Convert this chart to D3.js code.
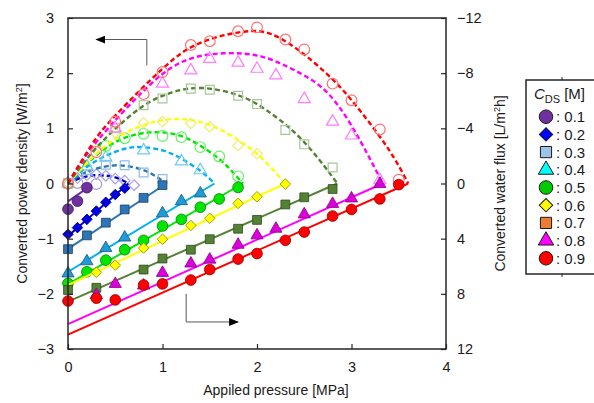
<!DOCTYPE html>
<html>
<head>
<meta charset="utf-8">
<script src="https://cdn.jsdelivr.net/npm/d3@7"></script>
<style>
  body { margin: 0; background: #fff; }
  svg { font-family: "Liberation Sans", Arial, sans-serif; }
</style>
</head>
<body>
<div id="chart"></div>
<script>
// concentration of draw solution (legend)
const concentrations = ["0.1", "0.2", "0.3", "0.4", "0.5", "0.6", "0.7", "0.8", "0.9"];

// measured power density [W/m2] (open markers, left axis)
const powerMeasured = [
  [[0, 0], [0.1, 0.01], [0.3, -0.01]],
  [[0, 0], [0.1, 0.1], [0.2, 0.15], [0.3, 0.17], [0.4, 0.14], [0.5, 0.09], [0.6, 0.05], [0.7, -0.03]],
  [[0, 0], [0.2, 0.24], [0.4, 0.34], [0.6, 0.33], [0.8, 0.2], [1.0, 0.08]],
  [[0, 0], [0.2, 0.31], [0.4, 0.47], [0.8, 0.6], [1.2, 0.4], [1.4, 0.24]],
  [[0, 0], [0.4, 0.68], [0.6, 0.82], [0.8, 0.9], [1.0, 0.86], [1.2, 0.84], [1.4, 0.66], [1.6, 0.49], [1.8, 0.13]],
  [[0, 0], [0.3, 0.62], [0.5, 0.92], [0.8, 1.1], [1.0, 1.12], [1.3, 1.09], [1.5, 1.03], [1.8, 0.69], [2.0, 0.54]],
  [[0, 0], [0.5, 1.0], [0.8, 1.42], [1.0, 1.54], [1.3, 1.72], [1.5, 1.7], [1.8, 1.59], [2.0, 1.44], [2.3, 0.97], [2.5, 0.71], [2.8, 0.29]],
  [[0.5, 1.0], [1.0, 1.81], [1.3, 2.05], [1.5, 2.26], [1.8, 2.19], [2.0, 2.08], [2.2, 1.96], [2.5, 1.53], [2.8, 1.12], [3.0, 0.87], [3.3, 0.06]],
  [[0, 0], [0.3, 0.57], [0.5, 1.12], [0.8, 1.62], [1.0, 2.02], [1.3, 2.51], [1.5, 2.58], [1.8, 2.76], [2.0, 2.83], [2.3, 2.61], [2.5, 2.43], [2.8, 1.81], [3.0, 1.51], [3.3, 0.98], [3.5, 0.07]]
];

// measured water flux [L/m2h] (filled markers, right axis)
const fluxMeasured = [
  [[0, 1.86], [0.1, 1.28], [0.2, 0.3]],
  [[0, 3.68], [0.1, 3.2], [0.2, 2.6], [0.3, 2.0], [0.4, 1.36], [0.5, 0.8], [0.6, 0.34]],
  [[0, 4.76], [0.2, 3.76], [0.4, 2.84], [0.6, 1.88], [0.8, 1.04], [1.0, 0.12]],
  [[0, 6.52], [0.2, 5.64], [0.4, 4.68], [0.6, 3.92], [1.0, 2.16], [1.2, 1.28], [1.4, 0.72]],
  [[0, 7.24], [0.2, 6.4], [0.4, 5.56], [0.6, 4.8], [0.8, 4.12], [1.0, 3.08], [1.2, 2.6], [1.4, 1.72], [1.6, 1.12], [1.8, 0.28]],
  [[0.3, 6.44], [0.5, 5.92], [0.8, 4.68], [1.0, 4.04], [1.3, 3.04], [1.5, 2.52], [1.8, 1.44], [2.0, 0.96], [2.3, 0.04]],
  [[0, 7.72], [0.3, 7.56], [0.8, 6.24], [1.0, 5.44], [1.3, 4.8], [1.5, 4.04], [1.8, 3.28], [2.0, 2.64], [2.3, 1.52], [2.5, 1.0], [2.8, 0.4]],
  [[0.3, 8.08], [0.5, 7.28], [0.8, 7.4], [1.0, 6.48], [1.3, 5.8], [1.5, 5.52], [1.8, 4.44], [2.0, 3.76], [2.2, 3.28], [2.5, 2.24], [2.8, 1.48], [3.0, 1.08], [3.3, 0.04]],
  [[0, 8.52], [0.3, 8.32], [0.5, 8.44], [0.8, 7.36], [1.0, 7.28], [1.3, 7.0], [1.5, 6.24], [1.8, 5.48], [2.0, 5.08], [2.3, 4.12], [2.5, 3.52], [2.8, 2.36], [3.0, 1.88], [3.3, 1.12], [3.5, 0.08]]
];

// model power density curves (dashed, left axis)
const powerModel = [
  [],
  [[0, 0], [0.1, 0.08], [0.2, 0.13], [0.32, 0.15], [0.45, 0.13], [0.55, 0.08], [0.64, 0]],
  [[0, 0], [0.15, 0.17], [0.3, 0.27], [0.52, 0.33], [0.75, 0.27], [0.9, 0.16], [1.04, 0]],
  [[0, 0], [0.2, 0.3], [0.4, 0.5], [0.6, 0.63], [0.78, 0.66], [1.0, 0.6], [1.2, 0.45], [1.4, 0.23], [1.55, 0]],
  [[0, 0], [0.2, 0.36], [0.45, 0.7], [0.7, 0.88], [0.93, 0.93], [1.2, 0.86], [1.45, 0.63], [1.65, 0.37], [1.85, 0]],
  [[0, 0], [0.25, 0.46], [0.5, 0.81], [0.8, 1.06], [1.15, 1.17], [1.5, 1.06], [1.8, 0.79], [2.05, 0.46], [2.3, 0]],
  [[0, 0], [0.25, 0.55], [0.5, 0.99], [0.8, 1.41], [1.1, 1.65], [1.42, 1.73], [1.8, 1.6], [2.1, 1.33], [2.4, 0.92], [2.65, 0.45], [2.85, 0]],
  [[0, 0], [0.2, 0.53], [0.45, 1.05], [0.8, 1.68], [1.2, 2.2], [1.65, 2.36], [2.05, 2.3], [2.4, 2.05], [2.77, 1.6], [3.1, 0.75], [3.33, 0]],
  [[0, 0], [0.25, 0.7], [0.5, 1.23], [1.0, 2.08], [1.4, 2.55], [1.85, 2.75], [2.25, 2.63], [2.75, 1.97], [3.1, 1.3], [3.4, 0.6], [3.6, 0]]
];

// model water flux lines (solid, right axis)
const fluxModel = [
  [[0, 1.3], [0.2, 0.35]],
  [[0, 3.8], [0.64, 0]],
  [[0, 4.74], [1.04, 0]],
  [[0, 6.4], [1.55, 0]],
  [[0, 7.3], [1.85, 0]],
  [[0, 7.36], [2.3, 0]],
  [[0, 8.56], [2.85, 0]],
  [[0, 10.2], [3.33, 0]],
  [[0, 10.96], [3.6, 0]]
];

const pressureTicks = [0, 1, 2, 3, 4];
const powerTicks = [-3, -2, -1, 0, 1, 2, 3];
const fluxTicks = [-12, -8, -4, 0, 4, 8, 12];

// arrows pointing to the axis each group belongs to (data units of pressure / power)
const leftArrow = [[0.834, 2.14], [0.834, 2.61], [0.3, 2.61]];
const rightArrow = [[1.25, -2.0], [1.25, -2.51], [1.8, -2.51]];

// styles
const lineColors = ["#7030a0", "#0000cc", "#2e75b6", "#00b0f0", "#00e600", "#ffff00", "#548235", "#ff00ff", "#ff0000"];
const fillColors = ["#7030a0", "#0000e0", "#2e75b6", "#1f9bd7", "#00e600", "#ffff00", "#548235", "#dd00dd", "#ff0000"];
const openColors = ["#b09ae0", "#a6a0f2", "#8fbde6", "#6ccbf5", "#66f066", "#eded70", "#a9c59a", "#ff7cff", "#ff7070"];
const legendColors = ["#7030a0", "#0000ff", "#9dc3e6", "#00ffff", "#00cc00", "#ffff00", "#ed7d31", "#ff00ff", "#ff0000"];
const shapes = ["circle", "diamond", "square", "triangle", "circle", "diamond", "square", "triangle", "circle"];

const W = 594, H = 403;
const margin = { top: 18, right: 148, bottom: 54, left: 68 };
const width = W - margin.left - margin.right;
const height = H - margin.top - margin.bottom;

const svg = d3.select("#chart").append("svg").attr("width", W).attr("height", H);

const x = d3.scaleLinear().domain([0, 4]).range([margin.left, margin.left + width]);
const yP = d3.scaleLinear().domain([-3, 3]).range([margin.top + height, margin.top]);
const yF = d3.scaleLinear().domain([-12, 12]).range([margin.top, margin.top + height]);

const symbolTypes = { circle: d3.symbolCircle, square: d3.symbolSquare, diamond: d3.symbolSquare, triangle: d3.symbolTriangle };
const symbolSizes = { circle: 90, square: 78, diamond: 56, triangle: 64 };

function marker(sel, shape, scale) {
  sel.attr("d", d3.symbol().type(symbolTypes[shape]).size(symbolSizes[shape] * scale)());
  return shape === "diamond" ? 45 : 0;
}

// series
concentrations.forEach((c, i) => {
  const g = svg.append("g").attr("class", "series");
  const shape = shapes[i];

  if (powerModel[i].length) {
    g.append("path")
      .datum(powerModel[i])
      .attr("fill", "none")
      .attr("stroke", lineColors[i])
      .attr("stroke-width", 2.4)
      .attr("stroke-dasharray", "5,3")
      .attr("d", d3.line().curve(d3.curveNatural).x((d) => x(d[0])).y((d) => yP(d[1])));
  }

  g.selectAll(".open")
    .data(powerMeasured[i])
    .enter()
    .append("path")
    .attr("class", "open")
    .each(function (d) {
      const rot = marker(d3.select(this), shape, 1);
      d3.select(this).attr("transform", `translate(${x(d[0])},${yP(d[1])}) rotate(${rot})`);
    })
    .attr("fill", "none")
    .attr("stroke", openColors[i])
    .attr("stroke-width", 1.2);

  g.append("path")
    .datum(fluxModel[i])
    .attr("fill", "none")
    .attr("stroke", lineColors[i])
    .attr("stroke-width", 2)
    .attr("d", d3.line().x((d) => x(d[0])).y((d) => yF(d[1])));

  g.selectAll(".filled")
    .data(fluxMeasured[i])
    .enter()
    .append("path")
    .attr("class", "filled")
    .each(function (d) {
      const rot = marker(d3.select(this), shape, 1);
      d3.select(this).attr("transform", `translate(${x(d[0])},${yF(d[1])}) rotate(${rot})`);
    })
    .attr("fill", fillColors[i])
    .attr("stroke", d3.color(fillColors[i]).darker(1.6))
    .attr("stroke-width", 0.8);
});

// frame
svg.append("rect")
  .attr("x", margin.left)
  .attr("y", margin.top)
  .attr("width", width)
  .attr("height", height)
  .attr("fill", "none")
  .attr("stroke", "#262626")
  .attr("stroke-width", 1.5);

// axes (inward ticks)
const axisFont = (g) => {
  g.select(".domain").remove();
  g.selectAll("line").attr("stroke", "#262626").attr("stroke-width", 1.2);
  g.selectAll("text").style("font-size", "14.5px").attr("fill", "#1a1a1a");
};

svg.append("g")
  .attr("transform", `translate(${margin.left},0)`)
  .call(d3.axisLeft(yP).tickValues(powerTicks).tickSize(-5).tickPadding(14).tickFormat(d3.format("d")))
  .call(axisFont);

svg.append("g")
  .attr("transform", `translate(${margin.left + width},0)`)
  .call(d3.axisRight(yF).tickValues(fluxTicks).tickSize(-5).tickPadding(11).tickFormat(d3.format("d")))
  .call(axisFont);

svg.append("g")
  .attr("transform", `translate(0,${margin.top + height})`)
  .call(d3.axisBottom(x).tickValues(pressureTicks).tickSize(-5).tickPadding(13).tickFormat(d3.format("d")))
  .call(axisFont);

// axis titles
svg.append("text")
  .attr("transform", `translate(27,${yP(0)}) rotate(-90)`)
  .attr("text-anchor", "middle")
  .style("font-size", "14px")
  .attr("fill", "#1a1a1a")
  .html("Converted power density [W/m<tspan dy='-5' font-size='9px'>2</tspan><tspan dy='5'>]</tspan>");

svg.append("text")
  .attr("transform", `translate(505,${yF(0)}) rotate(-90)`)
  .attr("text-anchor", "middle")
  .style("font-size", "14px")
  .attr("fill", "#1a1a1a")
  .html("Converted water flux [L/m<tspan dy='-5' font-size='9px'>2</tspan><tspan dy='5'>h]</tspan>");

svg.append("text")
  .attr("x", 276)
  .attr("y", 395)
  .attr("text-anchor", "middle")
  .style("font-size", "14px")
  .attr("fill", "#1a1a1a")
  .text("Appiled pressure [MPa]");

// arrows
const defs = svg.append("defs");
defs.append("marker")
  .attr("id", "head")
  .attr("viewBox", "0 0 10 10")
  .attr("refX", 9)
  .attr("refY", 5)
  .attr("markerWidth", 10)
  .attr("markerHeight", 10)
  .attr("markerUnits", "userSpaceOnUse")
  .attr("orient", "auto")
  .append("path")
  .attr("d", "M0,1 L10,5 L0,9 Z")
  .attr("fill", "#000");

[leftArrow, rightArrow].forEach((pts) => {
  svg.append("path")
    .datum(pts)
    .attr("fill", "none")
    .attr("stroke", "#595959")
    .attr("stroke-width", 1)
    .attr("marker-end", "url(#head)")
    .attr("d", d3.line().x((d) => x(d[0])).y((d) => yP(d[1])));
});

// legend
const legend = svg.append("g").attr("transform", "translate(526,80)");
legend.append("rect")
  .attr("width", 90)
  .attr("height", 194)
  .attr("fill", "#fff")
  .attr("stroke", "#262626")
  .attr("stroke-width", 1.5);
legend.append("line").attr("x1", 36).attr("x2", 36).attr("y1", -3).attr("y2", 0).attr("stroke", "#262626");
legend.append("line").attr("x1", 36).attr("x2", 36).attr("y1", 194).attr("y2", 197).attr("stroke", "#262626");

legend.append("text")
  .attr("x", 8)
  .attr("y", 19)
  .style("font-size", "15px")
  .attr("fill", "#1a1a1a")
  .html("<tspan font-style='italic'>C</tspan><tspan dy='4' font-size='11px'>DS</tspan><tspan dy='-4' dx='4'>[M]</tspan>");

const rows = legend.selectAll(".row")
  .data(concentrations)
  .enter()
  .append("g")
  .attr("class", "row")
  .attr("transform", (d, i) => `translate(0,${36.7 + i * 17.7})`);

rows.append("path")
  .each(function (d, i) {
    const rot = marker(d3.select(this), shapes[i], 1.6);
    d3.select(this).attr("transform", `translate(20,0) rotate(${rot})`);
  })
  .attr("fill", (d, i) => legendColors[i])
  .attr("stroke", "#1a1a1a")
  .attr("stroke-width", 1);

rows.append("text")
  .attr("x", 30)
  .attr("y", 5.5)
  .style("font-size", "15px")
  .attr("fill", "#1a1a1a")
  .text((d) => ": " + d);
</script>
</body>
</html>
